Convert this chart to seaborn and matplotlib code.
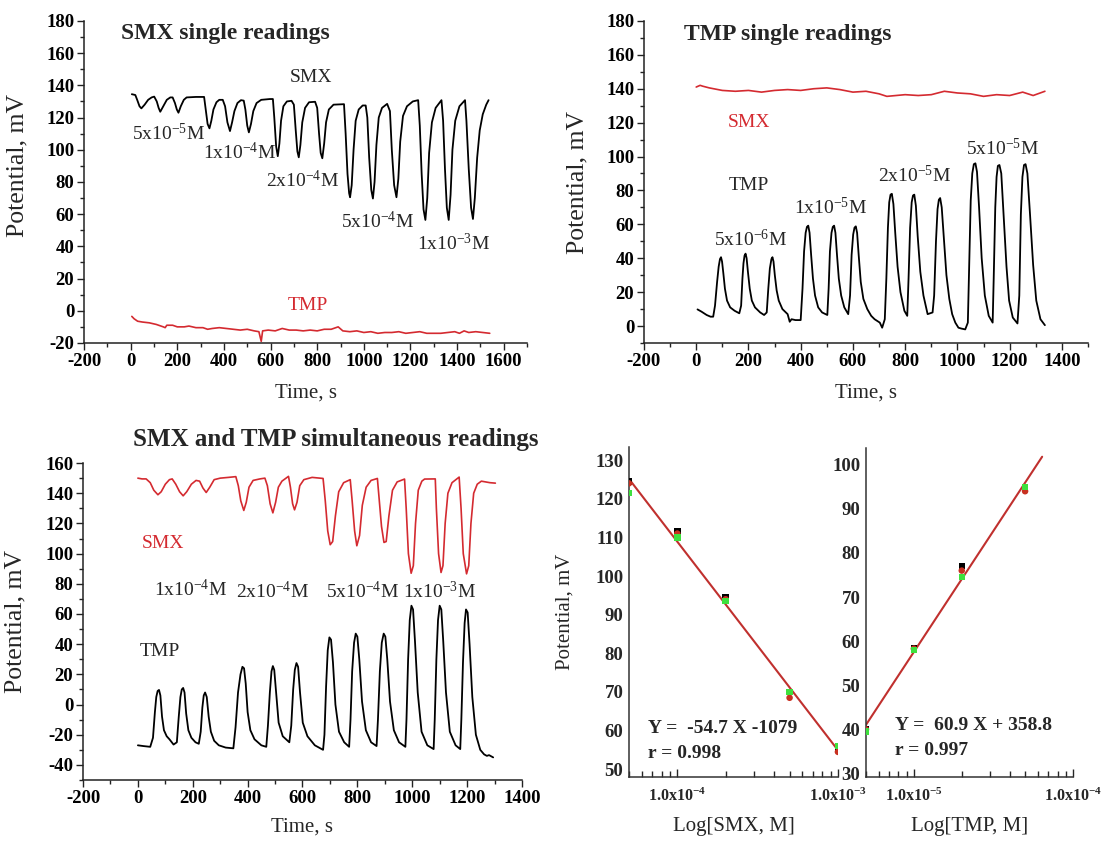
import numpy as np
import pandas as pd
import matplotlib
matplotlib.use("Agg")
import matplotlib.pyplot as plt
from matplotlib.ticker import MultipleLocator, LogLocator, NullFormatter
import seaborn as sns

sns.set_theme(style="ticks")
plt.rcParams["font.family"] = ["Liberation Serif", "DejaVu Serif"]
plt.rcParams["mathtext.fontset"] = "custom"
plt.rcParams["mathtext.rm"] = "Liberation Serif"
plt.rcParams["mathtext.bf"] = "Liberation Serif:bold"
plt.rcParams["mathtext.default"] = "regular"

# ---------------- DATA ----------------
# Panel A: SMX single readings (SMX electrode, black)
a_smx_t = [5, 20, 28, 38, 46, 60, 75, 90, 101, 112, 120, 127, 140, 155, 170, 180, 190, 198, 205, 215, 228, 240, 280, 315,
           322, 330, 338, 346, 355, 368, 380, 395, 405, 415, 426, 435, 445, 458, 473, 485, 492, 500, 507, 516, 526, 540, 560, 597, 610,
           616, 624, 631, 638, 645, 655, 670, 690, 700, 708, 715, 721, 728, 736, 748, 765, 791, 800, 808, 815, 822, 830, 838, 850, 870, 915,
           922, 930, 937, 941, 948, 956, 965, 978, 995, 1008, 1015, 1023, 1032, 1039, 1046, 1054, 1064, 1078, 1100, 1112, 1120, 1130, 1140,
           1148, 1156, 1168, 1185, 1210, 1233,
           1240, 1248, 1256, 1264, 1272, 1280, 1292, 1308, 1333, 1340, 1348, 1356, 1364, 1372, 1380, 1392, 1410, 1434, 1440, 1450, 1460,
           1468, 1476, 1486, 1497, 1510, 1525, 1535]
a_smx_v = [134.5, 134, 131, 127, 125.7, 128, 131, 132.5, 133, 130, 126, 123.6, 127, 131, 132.5, 132.5, 129, 125, 123, 127, 131, 132.5, 132.8, 132.8,
           125, 116, 113.3, 118, 125, 129.5, 131, 131, 127, 117, 111.6, 117, 124, 129, 130.8, 130.5, 125, 115, 110.8, 116, 124, 129, 131, 131.5, 131.5,
           120, 102, 96, 104, 118, 127, 130, 130.4, 128, 112, 99, 95.3, 103, 117, 126, 129.5, 129.8, 126, 110, 98, 94.7, 104, 117, 125, 128, 128.3,
           110, 85, 73, 70.5, 78, 100, 118, 125, 127.5, 127.5, 120, 95, 75, 69.7, 80, 103, 120, 126, 128.5, 124, 100, 78, 70.5,
           82, 105, 121, 127, 130, 130.8,
           115, 85, 63, 56.4, 70, 98, 117, 126, 130.8, 118, 88, 64, 56.4, 72, 100, 118, 127, 130.8, 118, 88, 64,
           57, 70, 95, 112, 122, 128, 130.8]
# Panel A: TMP electrode (red)
a_tmp_t = [5, 15, 30, 50, 80, 110, 140, 148, 155, 180, 200, 230, 250, 280, 310, 330, 350, 380, 410, 440, 470, 500, 530, 550, 560, 566,
           590, 620, 650, 680, 710, 740, 770, 800, 830, 860, 890, 910, 940, 970, 1000, 1030, 1060, 1090, 1120, 1150, 1180, 1210, 1240,
           1270, 1300, 1330, 1360, 1390, 1410, 1430, 1450, 1480, 1510, 1540]
a_tmp_v = [-3.5, -5, -6.5, -7, -7.5, -8.5, -10, -10.5, -9, -9, -10, -10, -9.5, -10.5, -10.5, -11.5, -11, -10.5, -11, -11.5, -12, -11.5, -12.5, -13, -19, -12.5,
           -12, -12.5, -11, -12, -12, -12.5, -12, -12.5, -11.5, -11.5, -10, -12.5, -13, -12.5, -13.5, -13, -14, -13.5, -13.5, -13, -14, -13.5, -13,
           -14, -14, -14, -13.5, -13, -14, -12.5, -13.5, -13, -13.5, -14]

# Panel B: TMP single readings (TMP electrode, black) as (time, potential) readings
b_tmp = [(5, 9.8), (20, 8.5), (40, 6.5), (55, 5.5), (65, 5.5), (72, 12), (80, 26), (86, 35), (91, 39.5), (95, 40.6), (99, 38),
         (104, 31), (110, 22), (118, 15), (130, 11), (147, 9), (165, 7.5),
         (172, 12), (177, 28), (181, 37), (185, 41.5), (189, 42.7), (193, 40), (198, 32), (205, 22), (213, 15), (225, 11), (245, 8), (260, 6.5),
         (270, 8), (276, 22), (282, 34), (288, 39.5), (292, 40.6), (296, 38), (301, 30), (308, 21), (316, 15), (330, 10), (350, 7),
         (358, 2.5), (365, 4), (380, 3.5), (400, 3.5),
         (407, 22), (413, 44), (419, 55), (424, 58.5), (429, 59.2), (434, 55), (440, 42), (447, 28), (455, 18), (467, 11), (482, 8), (502, 6.5),
         (507, 22), (512, 44), (518, 55), (523, 58.5), (528, 59.2), (533, 55), (539, 42), (546, 28), (555, 18), (567, 11), (582, 7),
         (589, 18), (595, 42), (601, 54), (606, 58), (611, 58.8), (616, 55), (622, 42), (630, 26), (640, 16), (655, 10), (670, 6),
         (683, 4), (703, 2), (712, -1),
         (722, 4), (728, 28), (734, 58), (739, 73), (744, 77.5), (749, 78), (755, 72), (762, 55), (771, 35), (782, 20), (797, 9), (808, 6),
         (813, 28), (819, 58), (825, 73), (830, 77), (835, 77.5), (841, 71), (848, 53), (858, 32), (870, 18), (886, 7), (905, 8),
         (911, 18), (918, 50), (924, 69), (929, 74.5), (934, 75.5), (940, 70), (948, 52), (958, 30), (969, 16), (980, 7), (992, 2),
         (1004, -1), (1015, -1.5), (1030, -2), (1040, 2),
         (1045, 35), (1051, 74), (1057, 90), (1063, 95.5), (1069, 96), (1075, 91), (1083, 70), (1093, 40), (1105, 18), (1120, 6), (1135, 2),
         (1139, 28), (1145, 70), (1150, 88), (1155, 94.5), (1161, 95), (1168, 90), (1177, 65), (1188, 35), (1198, 15), (1212, 5), (1230, 1.5),
         (1237, 18), (1243, 66), (1249, 88), (1255, 95), (1261, 95.5), (1268, 90), (1278, 66), (1290, 36), (1302, 15), (1318, 4), (1335, 0.5)]
# Panel B: SMX electrode (red)
b_smx_t = [0, 15, 25, 50, 100, 150, 200, 250, 300, 350, 400, 450, 500, 550, 600, 650, 700, 730, 800, 850, 900, 950, 1000, 1050, 1100,
           1150, 1200, 1250, 1290, 1335]
b_smx_v = [141, 142, 141.5, 140.5, 139, 138.5, 139, 138, 139, 139.5, 139, 140, 140.5, 139.5, 138, 138.5, 137, 135.5, 136.5, 136, 136.5, 138.5,
           137.5, 137, 135.5, 136.5, 136, 138, 136, 138.5]

# Panel C: simultaneous readings, SMX electrode (red)
c_smx_t = [0, 15, 30, 45, 58, 73, 85, 100, 115, 125, 138, 152, 165, 178, 195, 212, 225, 237, 249, 262, 278, 300, 330, 357, 366, 375, 386,
           395, 405, 420, 445, 463, 472, 482, 492, 502, 512, 525, 549, 556, 564, 571, 580, 590, 605, 635, 675, 683, 692, 701, 710, 720, 732,
           750, 774, 781, 790, 798, 808, 818, 832, 850, 873, 880, 888, 897, 905, 915, 928, 945, 972, 978, 986, 996, 1004, 1012, 1022, 1035,
           1045, 1084, 1088, 1096, 1105, 1112, 1120, 1130, 1145, 1171, 1178, 1186, 1198, 1206, 1214, 1224, 1237, 1252, 1283, 1303]
c_smx_v = [150, 149.5, 149.5, 147, 142, 139, 141, 146, 149, 149.5, 146, 141, 138.3, 141, 146, 148.5, 148, 143.5, 140.5, 144, 149, 150, 150.5, 151,
           145, 135, 128.6, 134, 144, 148.5, 149.5, 150, 145, 133, 127, 134, 144, 148, 151.2, 144, 133, 129, 134, 145, 149, 150.5, 149.8, 135, 115,
           105.9, 108, 125, 141, 147, 149, 135, 115, 105.2, 112, 132, 144, 148.5, 149.8, 135, 118, 107.4, 108, 125, 142, 147.5, 149.4, 130, 100,
           87, 92, 120, 142, 148, 149.4, 149.5, 130, 100, 87.5, 92, 120, 140, 147, 150.7, 130, 100, 86.6, 92, 120, 140, 146, 148, 147, 146.7]
# Panel C: TMP electrode (black) as (time, potential) readings
c_tmp = [(0, -27), (20, -27.5), (45, -28), (55, -22), (62, -5), (67, 5), (72, 9), (77, 9.7), (82, 6), (88, -8), (95, -17), (105, -21),
         (115, -23), (130, -26.5), (142, -25),
         (149, -8), (155, 5), (160, 10), (165, 11), (170, 8), (176, -6), (184, -17), (195, -22), (210, -25), (222, -26),
         (229, -18), (235, -2), (240, 6), (245, 8), (251, 5), (258, -8), (266, -18), (278, -24), (295, -27), (320, -28.5), (348, -29),
         (356, -15), (365, 8), (374, 20), (381, 25), (387, 24), (393, 14), (400, -5), (410, -17), (425, -23), (450, -27), (468, -28),
         (474, -14), (481, 8), (487, 22), (492, 25.5), (497, 23), (504, 8), (513, -12), (528, -21), (552, -25),
         (559, -14), (566, 10), (572, 23), (578, 27.5), (584, 25), (591, 8), (601, -12), (618, -21), (645, -27), (675, -30),
         (680, -20), (686, 12), (692, 36), (698, 44.5), (704, 43), (711, 28), (720, 0), (733, -18), (752, -25), (770, -28),
         (775, -10), (781, 22), (788, 41), (794, 47), (800, 45), (807, 30), (817, 2), (831, -17), (850, -25), (870, -27.5),
         (875, -10), (882, 22), (889, 41), (896, 47), (902, 45), (909, 30), (919, 2), (933, -17), (952, -25), (975, -28),
         (979, -10), (985, 30), (991, 56), (997, 65.5), (1003, 63), (1010, 42), (1020, 8), (1034, -18), (1055, -27), (1078, -29.5),
         (1082, -10), (1088, 30), (1094, 56), (1100, 65.5), (1106, 63), (1113, 42), (1123, 8), (1137, -18), (1158, -27), (1175, -29.5),
         (1179, -10), (1185, 28), (1191, 54), (1196, 63), (1202, 61), (1209, 40), (1219, 5), (1232, -20), (1248, -30), (1262, -33),
         (1272, -34), (1280, -33.5), (1290, -34.5), (1295, -35)]

# Panel D: calibration (three replicate readings per concentration)
smx_conc = [5e-5, 1e-4, 2e-4, 5e-4, 1e-3]
smx_rep1 = [124.5, 111.5, 94.5, 70.0, 55.0]   # black
smx_rep2 = [124.0, 111.0, 94.0, 68.5, 54.5]   # red
smx_rep3 = [121.5, 110.0, 93.5, 70.0, 56.0]   # green
tmp_conc = [5e-6, 1e-5, 2e-5, 5e-5]
tmp_rep1 = [40.0, 58.5, 77.0, 95.0]
tmp_rep2 = [40.0, 58.3, 76.0, 94.0]
tmp_rep3 = [39.5, 58.0, 74.5, 95.0]

b_tmp_t, b_tmp_v = [list(v) for v in zip(*b_tmp)]
c_tmp_t, c_tmp_v = [list(v) for v in zip(*c_tmp)]

RED = "#d42a30"
LINE_RED = "#c0302e"
GREEN = "#3ee03e"

fig = plt.figure(figsize=(11.04, 8.41), dpi=100)

TICK_FS = 13.5
LABEL_FS = 15
YLAB_FS = 18.5
ANN_FS = 14
TITLE_FS = 17


def style_time_axes(ax, xlim, ylim, yticks, xticks):
    sns.despine(ax=ax)
    ax.set_xlim(*xlim)
    ax.set_ylim(*ylim)
    ax.set_xticks(xticks, labels=[str(v) for v in xticks], fontweight="bold", fontsize=TICK_FS)
    ax.set_yticks(yticks, labels=[str(v) for v in yticks], fontweight="bold", fontsize=TICK_FS)
    ax.xaxis.set_minor_locator(MultipleLocator(100))
    ax.yaxis.set_minor_locator(MultipleLocator(10))
    ax.tick_params(which="major", direction="out", length=5, width=1, colors="#222222", labelcolor="black", pad=2)
    ax.tick_params(which="minor", direction="out", length=3, width=1, colors="#222222")
    for s in ax.spines.values():
        s.set_linewidth(1.1)
        s.set_color("#222222")
    ax.set_xlabel("Time, s", fontsize=LABEL_FS)
    ax.set_ylabel("Potential, mV", fontsize=YLAB_FS)
    ax.grid(False)
    ax.set_facecolor("white")


def sup(base, exp, tail="M"):
    return base + "x10$^{" + exp + "}$" + tail


# ---------- Panel A ----------
axA = fig.add_axes([0.0761, 0.5922, 0.4013, 0.3829])
sns.lineplot(x=a_smx_t, y=a_smx_v, ax=axA, color="black", lw=1.3, sort=False, estimator=None)
sns.lineplot(x=a_tmp_t, y=a_tmp_v, ax=axA, color=RED, lw=1.2, sort=False, estimator=None)
style_time_axes(axA, (-200, 1700), (-20, 180), list(range(-20, 181, 20)), list(range(-200, 1601, 200)))
axA.xaxis.labelpad = 10
axA.yaxis.set_label_coords(-0.125, 0.55)
axA.text(-40, 172, "SMX single readings", fontsize=TITLE_FS, fontweight="bold", ha="left", va="center")
axA.text(775, 145, "SMX", fontsize=ANN_FS, ha="center", va="center")
axA.text(163, 110, sup("5", "-5"), fontsize=ANN_FS, ha="center", va="center")
axA.text(468, 98, sup("1", "-4"), fontsize=ANN_FS, ha="center", va="center")
axA.text(736, 81, sup("2", "-4"), fontsize=ANN_FS, ha="center", va="center")
axA.text(1059, 55.5, sup("5", "-4"), fontsize=ANN_FS, ha="center", va="center")
axA.text(1383, 42, sup("1", "-3"), fontsize=ANN_FS, ha="center", va="center")
axA.text(760, 3, "TMP", fontsize=ANN_FS, ha="center", va="center", color=RED)

# ---------- Panel B ----------
axB = fig.add_axes([0.5833, 0.5922, 0.4022, 0.3829])
sns.lineplot(x=b_smx_t, y=b_smx_v, ax=axB, color=RED, lw=1.2, sort=False, estimator=None)
sns.lineplot(x=b_tmp_t, y=b_tmp_v, ax=axB, color="black", lw=1.3, sort=False, estimator=None)
style_time_axes(axB, (-200, 1500), (-10, 180), list(range(0, 181, 20)), list(range(-200, 1401, 200)))
axB.xaxis.labelpad = 10
axB.yaxis.set_label_coords(-0.125, 0.5)
axB.text(-45, 172, "TMP single readings", fontsize=TITLE_FS, fontweight="bold", ha="left", va="center")
axB.text(201, 120, "SMX", fontsize=ANN_FS, ha="center", va="center", color=RED)
axB.text(201, 83, "TMP", fontsize=ANN_FS, ha="center", va="center")
axB.text(207, 51, sup("5", "-6"), fontsize=ANN_FS, ha="center", va="center")
axB.text(515, 70, sup("1", "-5"), fontsize=ANN_FS, ha="center", va="center")
axB.text(837, 89, sup("2", "-5"), fontsize=ANN_FS, ha="center", va="center")
axB.text(1171, 105, sup("5", "-5"), fontsize=ANN_FS, ha="center", va="center")

# ---------- Panel C ----------
axC = fig.add_axes([0.0752, 0.0725, 0.3976, 0.3769])
sns.lineplot(x=c_smx_t, y=c_smx_v, ax=axC, color=RED, lw=1.2, sort=False, estimator=None)
sns.lineplot(x=c_tmp_t, y=c_tmp_v, ax=axC, color="black", lw=1.3, sort=False, estimator=None)
style_time_axes(axC, (-200, 1400), (-50, 160), list(range(-40, 161, 20)), list(range(-200, 1401, 200)))
axC.xaxis.labelpad = 8
axC.yaxis.set_label_coords(-0.13, 0.5)
axC.text(0.575, 1.075, "SMX and TMP simultaneous readings", transform=axC.transAxes,
         fontsize=18, fontweight="bold", ha="center", va="center")
axC.text(93, 107, "SMX", fontsize=ANN_FS, ha="center", va="center", color=RED)
axC.text(192, 76, sup("1", "-4"), fontsize=ANN_FS, ha="center", va="center")
axC.text(489, 75, sup("2", "-4"), fontsize=ANN_FS, ha="center", va="center")
axC.text(820, 75, sup("5", "-4"), fontsize=ANN_FS, ha="center", va="center")
axC.text(1098, 75, sup("1", "-3"), fontsize=ANN_FS, ha="center", va="center")
axC.text(79, 35, "TMP", fontsize=ANN_FS, ha="center", va="center")


# ---------- Panel D: calibrations ----------
def calib(ax, conc, reps, xlim, ylim, yticks, xmaj, line_ext, xlabel, eq, r, eqpos):
    x = np.array(conc)
    mean = np.mean(np.array(reps), axis=0)
    slope, icpt = np.polyfit(np.log10(x), mean, 1)
    xl = np.logspace(np.log10(line_ext[0]), np.log10(line_ext[1]), 50)
    sns.lineplot(x=xl, y=slope * np.log10(xl) + icpt, ax=ax, color=LINE_RED, lw=1.5, sort=False, estimator=None)
    for rep, col, mk in zip(reps, ["black", "#c83020", GREEN], ["s", "o", "s"]):
        sns.scatterplot(x=conc, y=rep, ax=ax, color=col, marker=mk, s=22, edgecolor="none", zorder=3)
    ax.set_xscale("log")
    ax.set_xlim(*xlim)
    ax.set_ylim(*ylim)
    sns.despine(ax=ax)
    ax.set_yticks(yticks, labels=[str(v) for v in yticks], fontweight="bold", fontsize=TICK_FS)
    ax.set_xticks(xmaj, labels=["1.0x10$^{%d}$" % int(round(np.log10(v))) for v in xmaj],
                  fontweight="bold", fontsize=11.5)
    ax.xaxis.set_minor_locator(LogLocator(base=10, subs=np.arange(2, 10)))
    ax.xaxis.set_minor_formatter(NullFormatter())
    ax.tick_params(axis="x", which="major", direction="in", length=6, width=1, pad=8)
    ax.tick_params(axis="x", which="minor", direction="in", length=4, width=1)
    ax.tick_params(axis="y", which="both", length=0, pad=4)
    for s in ax.spines.values():
        s.set_linewidth(1.1)
        s.set_color("#333333")
    ax.set_xlabel(xlabel, fontsize=LABEL_FS, labelpad=8)
    ax.grid(False)
    ax.set_facecolor("white")
    ax.text(eqpos[0], eqpos[1], eq, fontsize=14, fontweight="bold", ha="left", va="center")
    ax.text(eqpos[0], eqpos[2], r, fontsize=14, fontweight="bold", ha="left", va="center")


axD1 = fig.add_axes([0.5697, 0.0761, 0.1893, 0.3924])
calib(axD1, smx_conc, [smx_rep1, smx_rep2, smx_rep3], (5e-5, 1e-3), (48, 133.4), list(range(50, 131, 10)),
      [1e-4, 1e-3], (5e-5, 1e-3), "Log[SMX, M]", "Y =  -54.7 X -1079", "r = 0.998", (6.6e-5, 60.6, 54.1))
axD1.set_ylabel("Potential, mV", fontsize=LABEL_FS)
axD1.yaxis.set_label_coords(-0.26, 0.5)

axD2 = fig.add_axes([0.7844, 0.0761, 0.1875, 0.3912])
calib(axD2, tmp_conc, [tmp_rep1, tmp_rep2, tmp_rep3], (5e-6, 1e-4), (29.2, 103.8), list(range(30, 101, 10)),
      [1e-5, 1e-4], (5e-6, 6.4e-5), "Log[TMP, M]", "Y =  60.9 X + 358.8", "r = 0.997", (7.6e-6, 40.8, 35.1))

fig.savefig("out.png", dpi=100, facecolor="white")
